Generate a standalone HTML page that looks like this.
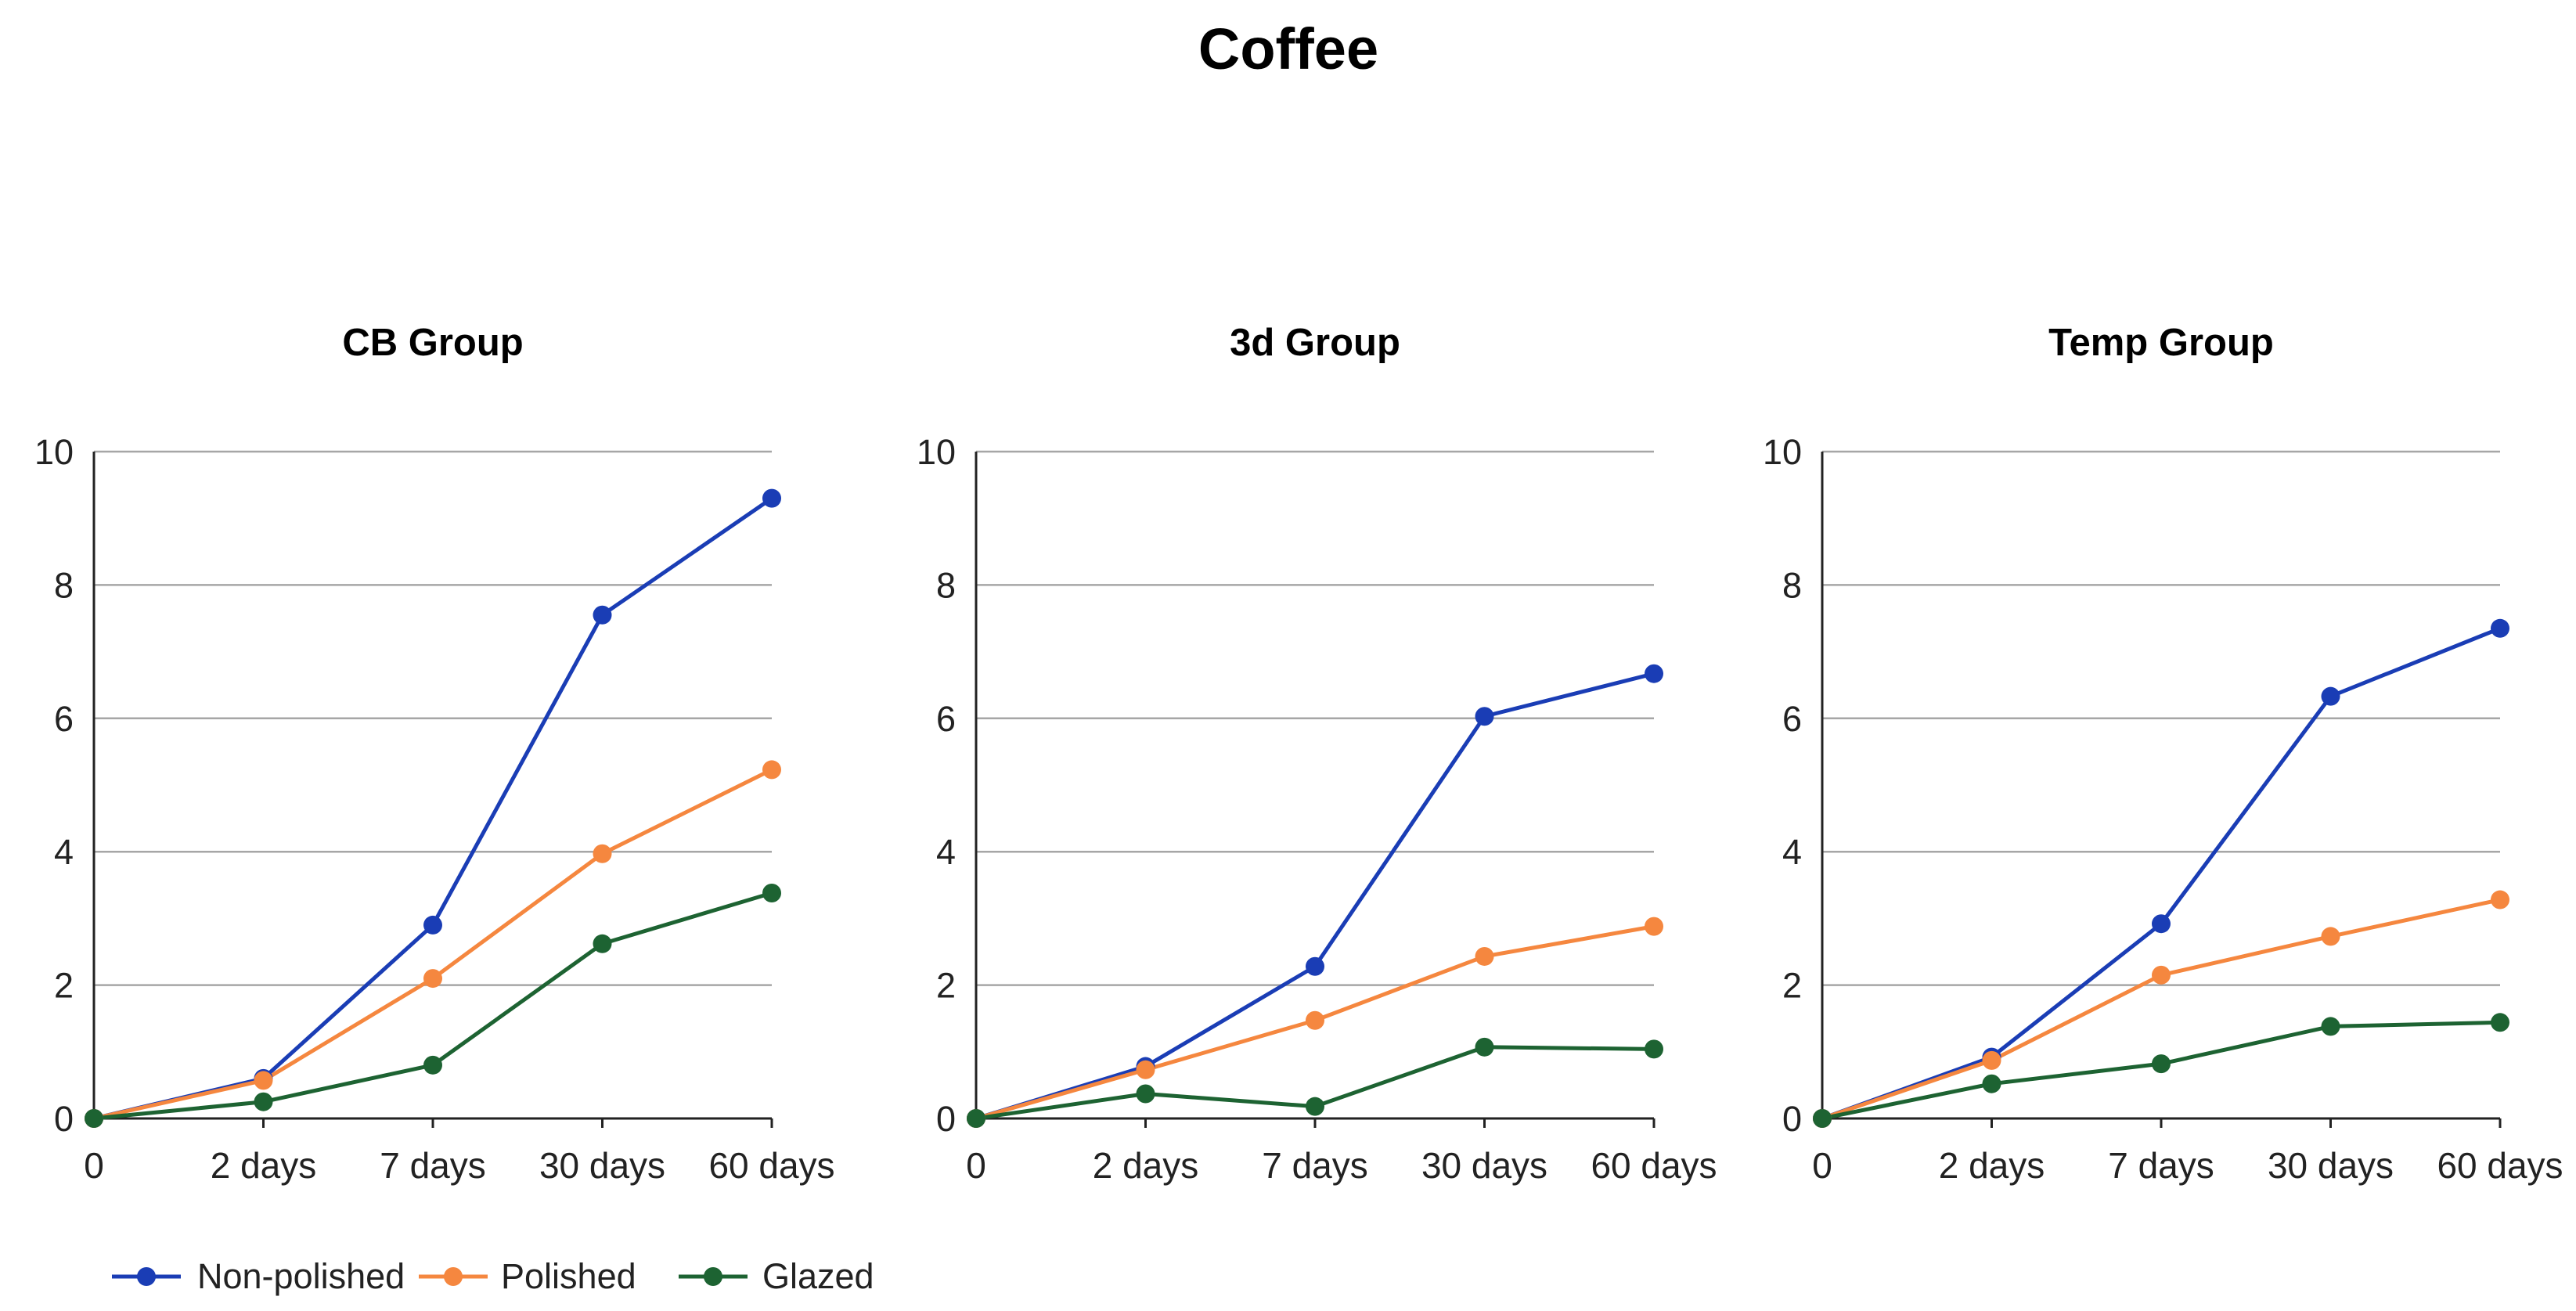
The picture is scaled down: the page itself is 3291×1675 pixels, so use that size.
<!DOCTYPE html>
<html><head><meta charset="utf-8"><style>
html,body{margin:0;padding:0;background:#fff;}
svg text{font-family:"Liberation Sans",sans-serif;}
</style></head><body>
<svg id="chart" width="3291" height="1670" xmlns="http://www.w3.org/2000/svg">
<text x="1646" y="88" text-anchor="middle" font-size="74" font-weight="bold" fill="#000">Coffee</text>
<g>
<g><line x1="143" y1="1631" x2="231" y2="1631" stroke="#1a3db5" stroke-width="5"/><circle cx="187" cy="1631" r="12" fill="#1a3db5"/><text x="252" y="1646" font-size="45" fill="#222">Non-polished</text></g>
<g><line x1="535" y1="1631" x2="623" y2="1631" stroke="#f5873f" stroke-width="5"/><circle cx="579" cy="1631" r="12" fill="#f5873f"/><text x="640" y="1646" font-size="45" fill="#222">Polished</text></g>
<g><line x1="867" y1="1631" x2="955" y2="1631" stroke="#1d6332" stroke-width="5"/><circle cx="911" cy="1631" r="12" fill="#1d6332"/><text x="974" y="1646" font-size="45" fill="#222">Glazed</text></g>
</g>
</svg>
<script>
const categories = ["0","2 days","7 days","30 days","60 days"];
const yTicks = [0,2,4,6,8,10];
const panelTitles = ["CB Group","3d Group","Temp Group"];
const seriesNames = ["Non-polished","Polished","Glazed"];
const cbNonPolished = [0,0.6,2.9,7.55,9.3];
const cbPolished = [0,0.57,2.1,3.97,5.23];
const cbGlazed = [0,0.25,0.8,2.62,3.38];
const d3NonPolished = [0,0.78,2.28,6.03,6.67];
const d3Polished = [0,0.73,1.47,2.43,2.88];
const d3Glazed = [0,0.37,0.18,1.07,1.04];
const tempNonPolished = [0,0.92,2.92,6.33,7.35];
const tempPolished = [0,0.87,2.15,2.73,3.28];
const tempGlazed = [0,0.52,0.82,1.38,1.44];

const panelData = [[cbNonPolished,cbPolished,cbGlazed],[d3NonPolished,d3Polished,d3Glazed],[tempNonPolished,tempPolished,tempGlazed]];
const colors = ["#1a3db5","#f5873f","#1d6332"];
const panelX0 = [120,1247,2328];
const panelW = 866;
const yTop = 577, yBot = 1429, yMax = 10;
const svg = document.getElementById('chart');
const NS = "http://www.w3.org/2000/svg";
function mk(tag, attrs, parent){const e=document.createElementNS(NS,tag);for(const k in attrs)e.setAttribute(k,attrs[k]);(parent||svg).appendChild(e);return e;}

panelTitles.forEach((title,p)=>{
  const x0 = panelX0[p];
  const xs = i => x0 + i*panelW/(categories.length-1);
  const ys = v => yBot - (v/yMax)*(yBot-yTop);
  const g = mk('g',{});
  
  
  const t = mk('text',{x:x0+panelW/2,y:454,'text-anchor':'middle','font-size':49,'font-weight':'bold',fill:'#000'},g);
  t.textContent = title;
  
  
  yTicks.forEach(v=>{
    if(v>0){
      const gl = mk('line',{x1:x0,x2:x0+panelW,y1:ys(v),y2:ys(v),stroke:'#a6a6a6','stroke-width':2.5},g);
      
      
    }
    const lt = mk('text',{x:x0-26,y:ys(v)+16,'text-anchor':'end','font-size':45,fill:'#222'},g);
    lt.textContent = v;
    
    
  });
  const ya = mk('line',{x1:x0,x2:x0,y1:yTop,y2:yBot,stroke:'#222','stroke-width':3},g);
  
  
  const xa = mk('line',{x1:x0,x2:x0+panelW,y1:yBot,y2:yBot,stroke:'#222','stroke-width':3},g);
  
  
  categories.forEach((c,i)=>{
    const tk = mk('line',{x1:xs(i),x2:xs(i),y1:yBot,y2:yBot+12,stroke:'#222','stroke-width':3},g);
    
    
    const xl = mk('text',{x:xs(i),y:1505,'text-anchor':'middle','font-size':46,fill:'#222'},g);
    xl.textContent = c;
    
    
  });
  panelData[p].forEach((vals,s)=>{
    const pts = vals.map((v,i)=>xs(i)+','+ys(v)).join(' ');
    const pl = mk('polyline',{points:pts,fill:'none',stroke:colors[s],'stroke-width':5,'stroke-linejoin':'round'},g);
    
    
  });
  panelData[p].forEach((vals,s)=>{
    vals.forEach((v,i)=>{
      const c = mk('circle',{cx:xs(i),cy:ys(v),r:12,fill:colors[s]},g);
      
      
    });
  });
});
</script>
</body></html>
